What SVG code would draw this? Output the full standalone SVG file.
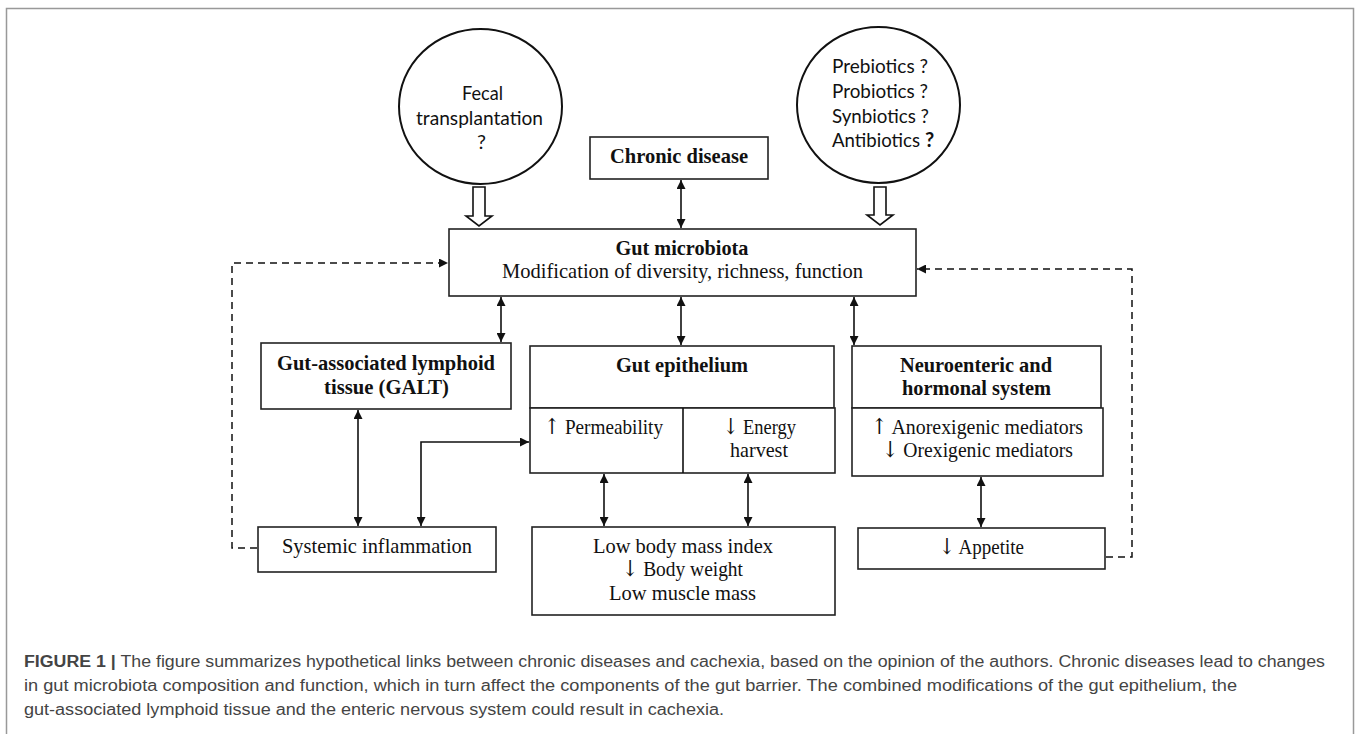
<svg xmlns="http://www.w3.org/2000/svg" width="1358" height="734" viewBox="0 0 1358 734">
<defs>
<style>
.box{fill:#fff;stroke:#222;stroke-width:1.6}
.ell{fill:#fff;stroke:#111;stroke-width:2}
.t{font-family:"Liberation Serif","DejaVu Serif","Times New Roman",serif;font-size:22px;fill:#111}
.ar{font-family:"DejaVu Serif","Liberation Serif",serif;fill:#111}
.b{font-weight:bold}
.c{font-family:Lato,"Open Sans",sans-serif;font-size:20px;fill:#111}
.ln{fill:none;stroke:#111;stroke-width:1.6}
.dash{fill:none;stroke:#111;stroke-width:1.5;stroke-dasharray:7,5}
.open{fill:#fff;stroke:#111;stroke-width:1.6;stroke-linejoin:miter}
.cap{font-family:"Liberation Sans",Arial,sans-serif;font-size:16px;fill:#444}
</style>
<marker id="ah" viewBox="0 0 10 10" refX="10" refY="5" markerWidth="9" markerHeight="9" markerUnits="userSpaceOnUse" orient="auto-start-reverse">
<path d="M0,0 L10,5 L0,10 z" fill="#111"/>
</marker>
</defs>
<rect x="6.5" y="8.5" width="1347" height="740" fill="none" stroke="#999" stroke-width="1.5"/>

<g id="fecal">
<ellipse class="ell" cx="480.5" cy="106.5" rx="81.5" ry="77.5"/>
<text class="c" x="482.5" y="100" text-anchor="middle" textLength="41" lengthAdjust="spacingAndGlyphs">Fecal</text>
<text class="c" x="479.5" y="125" text-anchor="middle" textLength="127" lengthAdjust="spacingAndGlyphs">transplantation</text>
<text class="c" x="481.5" y="149" text-anchor="middle">?</text>
</g>

<g id="biotics">
<ellipse class="ell" cx="878.5" cy="105" rx="81.5" ry="78"/>
<text class="c" x="832" y="73" textLength="96" lengthAdjust="spacingAndGlyphs">Prebiotics ?</text>
<text class="c" x="832" y="98" textLength="96" lengthAdjust="spacingAndGlyphs">Probiotics ?</text>
<text class="c" x="832" y="123" textLength="97" lengthAdjust="spacingAndGlyphs">Synbiotics ?</text>
<text class="c" x="832" y="147" textLength="88" lengthAdjust="spacingAndGlyphs">Antibiotics</text>
<text class="c b" x="925" y="147">?</text>
</g>

<g id="chronic">
<rect class="box" x="590" y="137" width="178" height="42"/>
<text class="t b" x="679" y="163" text-anchor="middle" textLength="138" lengthAdjust="spacingAndGlyphs">Chronic disease</text>
</g>

<g id="microbiota">
<rect class="box" x="449" y="229" width="467" height="67"/>
<text class="t b" x="682" y="255" text-anchor="middle" textLength="133" lengthAdjust="spacingAndGlyphs">Gut microbiota</text>
<text class="t" x="682.5" y="278" text-anchor="middle" textLength="361" lengthAdjust="spacingAndGlyphs">Modification of diversity, richness, function</text>
</g>

<g id="galt">
<rect class="box" x="261" y="343" width="250" height="66"/>
<text class="t b" x="386" y="370" text-anchor="middle" textLength="218" lengthAdjust="spacingAndGlyphs">Gut-associated lymphoid</text>
<text class="t b" x="386.5" y="394" text-anchor="middle" textLength="125" lengthAdjust="spacingAndGlyphs">tissue (GALT)</text>
</g>

<g id="epithelium">
<rect class="box" x="530" y="346" width="304" height="62"/>
<rect class="box" x="530" y="408" width="305" height="65"/>
<line class="ln" x1="683" y1="408" x2="683" y2="473"/>
<text class="t b" x="682" y="372" text-anchor="middle" textLength="132" lengthAdjust="spacingAndGlyphs">Gut epithelium</text>
<text class="t" x="544" y="434" textLength="119" lengthAdjust="spacingAndGlyphs"><tspan class="ar">↑</tspan> Permeability</text>
<text class="t" x="759.5" y="434" text-anchor="middle" textLength="73" lengthAdjust="spacingAndGlyphs"><tspan class="ar">↓</tspan> Energy</text>
<text class="t" x="759" y="457" text-anchor="middle" textLength="58" lengthAdjust="spacingAndGlyphs">harvest</text>
</g>

<g id="neuro">
<rect class="box" x="852" y="346" width="249" height="62"/>
<rect class="box" x="852" y="408" width="251" height="68"/>
<text class="t b" x="976" y="372" text-anchor="middle" textLength="152" lengthAdjust="spacingAndGlyphs">Neuroenteric and</text>
<text class="t b" x="976.5" y="395" text-anchor="middle" textLength="149" lengthAdjust="spacingAndGlyphs">hormonal system</text>
<text class="t" x="977" y="434" text-anchor="middle" textLength="212" lengthAdjust="spacingAndGlyphs"><tspan class="ar">↑</tspan> Anorexigenic mediators</text>
<text class="t" x="977.5" y="457" text-anchor="middle" textLength="191" lengthAdjust="spacingAndGlyphs"><tspan class="ar">↓</tspan> Orexigenic mediators</text>
</g>

<g id="systemic">
<rect class="box" x="258" y="527" width="238" height="45"/>
<text class="t" x="377" y="553" text-anchor="middle" textLength="190" lengthAdjust="spacingAndGlyphs">Systemic inflammation</text>
</g>

<g id="bmi">
<rect class="box" x="532" y="527" width="303" height="88"/>
<text class="t" x="683" y="553" text-anchor="middle" textLength="180" lengthAdjust="spacingAndGlyphs">Low body mass index</text>
<text class="t" x="682.5" y="576" text-anchor="middle" textLength="121" lengthAdjust="spacingAndGlyphs"><tspan class="ar">↓</tspan> Body weight</text>
<text class="t" x="682.5" y="600" text-anchor="middle" textLength="147" lengthAdjust="spacingAndGlyphs">Low muscle mass</text>
</g>

<g id="appetite">
<rect class="box" x="858" y="528" width="247" height="41"/>
<text class="t" x="981.5" y="554" text-anchor="middle" textLength="85" lengthAdjust="spacingAndGlyphs"><tspan class="ar">↓</tspan> Appetite</text>
</g>

<g id="connectors">
<path class="open" d="M473,187 H485 V216 H492 L479,226 L466,216 H473 Z"/>
<path class="open" d="M874,187 H886 V215 H893 L880,225 L867,215 H874 Z"/>
<line class="ln" x1="681" y1="180" x2="681" y2="228" marker-start="url(#ah)" marker-end="url(#ah)"/>
<line class="ln" x1="501" y1="297" x2="501" y2="342" marker-start="url(#ah)" marker-end="url(#ah)"/>
<line class="ln" x1="681" y1="297" x2="681" y2="345" marker-start="url(#ah)" marker-end="url(#ah)"/>
<line class="ln" x1="854" y1="297" x2="854" y2="345" marker-start="url(#ah)" marker-end="url(#ah)"/>
<line class="ln" x1="358" y1="410" x2="358" y2="526" marker-start="url(#ah)" marker-end="url(#ah)"/>
<path class="ln" d="M421,526 V442 H529" marker-start="url(#ah)" marker-end="url(#ah)"/>
<line class="ln" x1="604" y1="474" x2="604" y2="526" marker-start="url(#ah)" marker-end="url(#ah)"/>
<line class="ln" x1="748" y1="474" x2="748" y2="526" marker-start="url(#ah)" marker-end="url(#ah)"/>
<line class="ln" x1="981" y1="477" x2="981" y2="527" marker-start="url(#ah)" marker-end="url(#ah)"/>
<path class="dash" d="M257,548 H232 V263 H448" marker-end="url(#ah)"/>
<path class="dash" d="M1106,557 H1132 V269 H917" marker-end="url(#ah)"/>
</g>

<g id="caption">
<text class="cap" x="24" y="667" textLength="1301" lengthAdjust="spacingAndGlyphs"><tspan font-weight="bold">FIGURE 1 |</tspan> The figure summarizes hypothetical links between chronic diseases and cachexia, based on the opinion of the authors. Chronic diseases lead to changes</text>
<text class="cap" x="24" y="691" textLength="1213" lengthAdjust="spacingAndGlyphs">in gut microbiota composition and function, which in turn affect the components of the gut barrier. The combined modifications of the gut epithelium, the</text>
<text class="cap" x="24" y="715" textLength="700" lengthAdjust="spacingAndGlyphs">gut-associated lymphoid tissue and the enteric nervous system could result in cachexia.</text>
</g>
</svg>
